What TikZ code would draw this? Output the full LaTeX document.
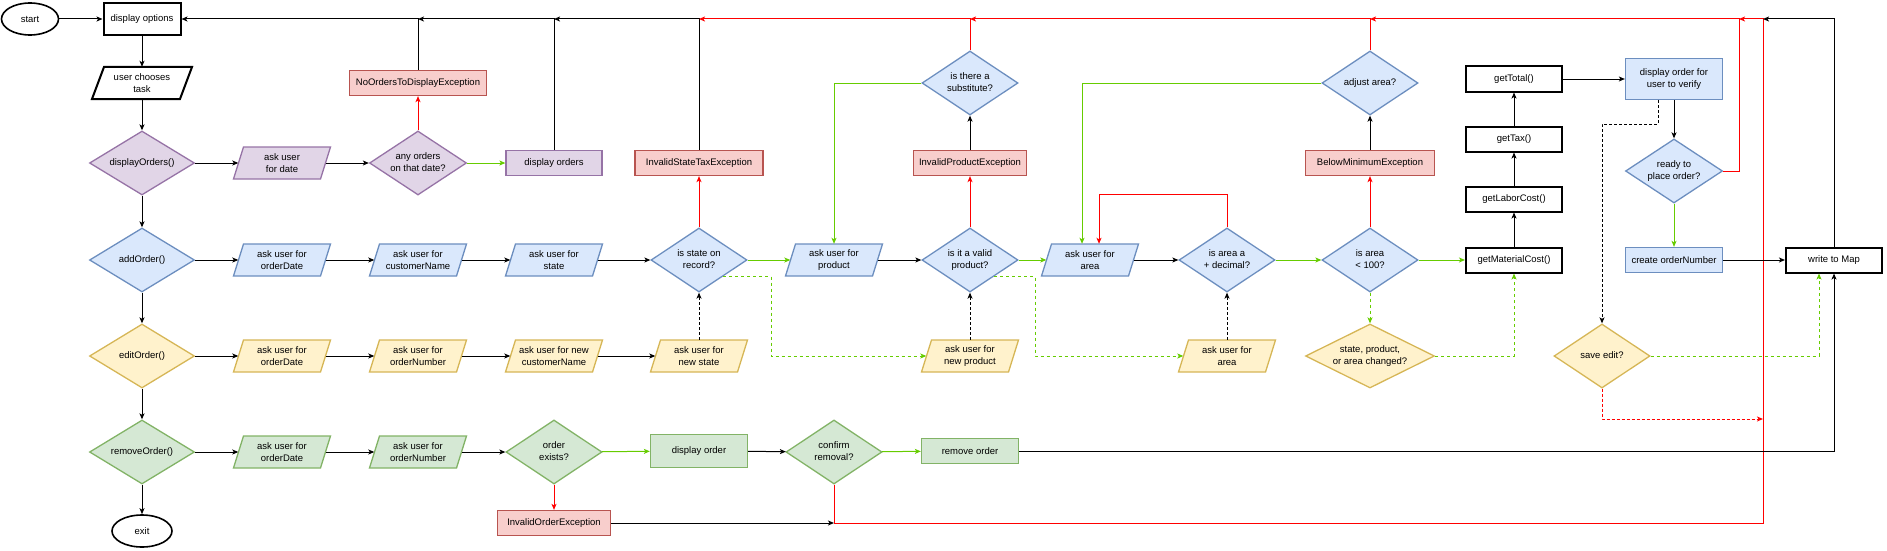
\documentclass[tikz,border=0pt]{standalone}
\usepackage{fontspec}
\setmainfont{Liberation Sans}
\usetikzlibrary{shapes.geometric,arrows.meta}
\definecolor{pF}{HTML}{E1D5E7}\definecolor{pS}{HTML}{9673A6}
\definecolor{bF}{HTML}{DAE8FC}\definecolor{bS}{HTML}{6C8EBF}
\definecolor{yF}{HTML}{FFF2CC}\definecolor{yS}{HTML}{D6B656}
\definecolor{gF}{HTML}{D5E8D4}\definecolor{gS}{HTML}{82B366}
\definecolor{rF}{HTML}{F8CECC}\definecolor{rS}{HTML}{B85450}
\definecolor{eR}{HTML}{FF0000}\definecolor{eG}{HTML}{66CC00}
\newcommand\dtx[1]{\smash{\makebox[0pt]{\raisebox{-2.5pt}{\begin{tabular}{@{}c@{}}#1\end{tabular}}}}}
\newcommand\pgram[5]{%
  \path[#4] ({#2-48.5},{#3+16}) -- ({#2-38.5},{#3-16}) -- ({#2+48.5},{#3-16}) -- ({#2+38.5},{#3+16}) -- cycle;
  \node[txt,minimum width=87pt,minimum height=32pt] (#1) at (#2,#3) {#5};}
\tikzset{
  txt/.style={font=\fontsize{9.5}{12}\selectfont, align=center, inner sep=0pt, text=black},
  sP/.style={fill=pF, draw=pS, line width=1.3pt},
  sB/.style={fill=bF, draw=bS, line width=1.3pt},
  sY/.style={fill=yF, draw=yS, line width=1.3pt},
  sG/.style={fill=gF, draw=gS, line width=1.3pt},
  sR/.style={fill=rF, draw=rS, line width=1.3pt},
  sK/.style={fill=white, draw=black, line width=2pt},
  rbox/.style={txt, rectangle, minimum height=25pt},
  dia/.style={txt, diamond, minimum height=64pt, minimum width=96pt},
  edg/.style={line width=1pt, -{Stealth[length=6pt,width=5pt,inset=1.5pt]}},
  be/.style={edg, draw=black},
  re/.style={edg, draw=eR},
  ge/.style={edg, draw=eG},
  bd/.style={be, dash pattern=on 3pt off 2pt},
  gd/.style={ge, dash pattern=on 3pt off 3pt},
  rd/.style={re, dash pattern=on 3pt off 2pt},
}
\begin{document}
\begin{tikzpicture}[x=1pt,y=-1pt]
\useasboundingbox (0,0) rectangle (1887,551);
\coordinate (top) at (0,19);
% ---------- column 1
\node[txt,ellipse,draw=black,line width=1.6pt,minimum width=57pt,minimum height=32pt] (start) at (30,19) {start};
\node[rbox,sK,minimum width=77pt,minimum height=32pt] (dopt) at (142,19) {display options};
\path[sK] (92,99) -- (104,67) -- (192,67) -- (180,99) -- cycle;
\node[txt,minimum width=88pt,minimum height=32pt] (uct) at (142,83) {user chooses\\task};
\node[dia,sP,minimum width=105pt] (dO) at (142,163) {\dtx{displayOrders()}};
\node[dia,sB,minimum width=105pt] (aO) at (142,260) {\dtx{addOrder()}};
\node[dia,sY,minimum width=105pt] (eO) at (142,356) {\dtx{editOrder()}};
\node[dia,sG,minimum width=105pt] (rO) at (142,452) {\dtx{removeOrder()}};
\node[txt,ellipse,draw=black,line width=1.6pt,minimum width=60pt,minimum height=32pt] (exit) at (142,531) {exit};
% ---------- row 1 (display)
\pgram{dA}{282}{163}{sP}{ask user\\for date}
\node[dia,sP,minimum width=97pt] (any) at (418,163) {\dtx{any orders\\on that date?}};
\node[rbox,sR,minimum width=137pt] (noE) at (418,83) {NoOrdersToDisplayException};
\node[rbox,sP,minimum width=96pt] (dso) at (554,163) {display orders};
% ---------- row 2 (add)
\pgram{a1}{282}{260}{sB}{ask user for\\orderDate}
\pgram{a2}{418}{260}{sB}{ask user for\\customerName}
\pgram{a3}{554}{260}{sB}{ask user for\\state}
\node[dia,sB] (isr) at (699,260) {\dtx{is state on\\record?}};
\node[rbox,sR,minimum width=128pt] (ist) at (699,163) {InvalidStateTaxException};
\pgram{prod}{834}{260}{sB}{ask user for\\product}
\node[dia,sB] (ivp) at (970,260) {\dtx{is it a valid\\product?}};
\node[rbox,sR,minimum width=113pt] (ipe) at (970,163) {InvalidProductException};
\node[dia,sB] (sub) at (970,83) {\dtx{is there a\\substitute?}};
\pgram{arB}{1090}{260}{sB}{ask user for\\area}
\node[dia,sB] (dec) at (1227,260) {\dtx{is area a\\+ decimal?}};
\node[dia,sB] (a100) at (1370,260) {\dtx{is area\\< 100?}};
\node[rbox,sR,minimum width=129pt] (bme) at (1370,163) {BelowMinimumException};
\node[dia,sB] (adj) at (1370,83) {\dtx{adjust area?}};
\node[rbox,sK,minimum width=96pt] (gmc) at (1514,260) {getMaterialCost()};
\node[rbox,sK,minimum width=96pt] (glc) at (1514,199) {getLaborCost()};
\node[rbox,sK,minimum width=96pt] (gtx) at (1514,139) {getTax()};
\node[rbox,sK,minimum width=96pt] (gtt) at (1514,79) {getTotal()};
\node[rbox,sB,minimum width=97pt,minimum height=41pt] (dov) at (1674,79) {display order for\\user to verify};
\node[dia,sB,minimum width=97pt] (rdy) at (1674,171) {\dtx{ready to\\place order?}};
\node[rbox,sB,minimum width=97pt] (con) at (1674,260) {create orderNumber};
\node[rbox,sK,minimum width=96pt] (wtm) at (1834,260) {write to Map};
% ---------- row 3 (edit)
\pgram{e1}{282}{356}{sY}{ask user for\\orderDate}
\pgram{e2}{418}{356}{sY}{ask user for\\orderNumber}
\pgram{e3}{554}{356}{sY}{ask user for new\\customerName}
\pgram{e4}{699}{356}{sY}{ask user for\\new state}
\pgram{e5}{970}{356}{sY}{ask user for\\new product}
\pgram{e6}{1227}{356}{sY}{ask user for\\area}
\node[dia,sY,minimum width=129pt] (chg) at (1370,356) {\dtx{state, product,\\or area changed?}};
\node[dia,sY] (sav) at (1602,356) {\dtx{save edit?}};
% ---------- row 4 (remove)
\pgram{r1}{282}{452}{sG}{ask user for\\orderDate}
\pgram{r2}{418}{452}{sG}{ask user for\\orderNumber}
\node[dia,sG] (oex) at (554,452) {\dtx{order\\exists?}};
\node[rbox,sR,minimum width=113pt] (ioe) at (554,523) {InvalidOrderException};
\node[rbox,sG,minimum width=97pt,minimum height=33pt] (dor) at (699,451) {display order};
\node[dia,sG] (cfm) at (834,452) {\dtx{confirm\\removal?}};
\node[rbox,sG,minimum width=97pt] (rmo) at (970,451) {remove order};
% ---------- coordinates
\coordinate (rdT) at (1739,19);
\coordinate (lrT) at (1763,19);
\coordinate (lrB) at (1763,523);
\coordinate (sv) at (1763,419);
\coordinate (k1) at (771,356);
\coordinate (k2) at (1035,356);
% ---------- edges: main column
\draw[be] (start) -- (dopt);
\draw[be] (dopt) -- (uct);
\draw[be] (uct) -- (dO);
\draw[be] (dO) -- (aO);
\draw[be] (aO) -- (eO);
\draw[be] (eO) -- (rO);
\draw[be] (rO) -- (exit);
% row 1
\draw[be] (dO) -- (dA);
\draw[be] (dA) -- (any);
\draw[ge] (any) -- (dso);
\draw[re] (any) -- (noE);
% top return chain
\draw[be] (noE.north) |- (dopt.east);
\draw[be] (dso.north) |- (noE.north |- top);
\draw[be] (ist.north) |- (dso.north |- top);
\draw[re] (sub.north) |- (ist.north |- top);
\draw[re] (adj.north) |- (sub.north |- top);
\draw[re] (rdy.east) -| (rdT) -- (adj.north |- top);
\draw[re] (cfm.south) |- (lrB) -- (lrT) -- (rdT);
\draw[be] (wtm.north) |- (lrT);
% row 2
\draw[be] (aO) -- (a1);
\draw[be] (a1) -- (a2);
\draw[be] (a2) -- (a3);
\draw[be] (a3) -- (isr);
\draw[ge] (isr) -- (prod);
\draw[re] (isr) -- (ist);
\draw[be] (prod) -- (ivp);
\draw[ge] (ivp) -- (arB);
\draw[re] (ivp) -- (ipe);
\draw[be] (ipe) -- (sub);
\draw[ge] (sub.west) -| (prod.north);
\draw[be] (arB) -- (dec);
\draw[re] (dec.north) -- ++(0,-33) -| ([xshift=9pt]arB.north);
\draw[ge] (adj.west) -| ([xshift=-8pt]arB.north);
\draw[ge] (dec) -- (a100);
\draw[ge] (a100) -- (gmc);
\draw[re] (a100) -- (bme);
\draw[be] (bme) -- (adj);
\draw[be] (gmc) -- (glc);
\draw[be] (glc) -- (gtx);
\draw[be] (gtx) -- (gtt);
\draw[be] (gtt) -- (dov);
\draw[be] (dov) -- (rdy);
\draw[ge] (rdy) -- (con);
\draw[be] (con) -- (wtm);
\draw[bd] ([xshift=-16pt]dov.south) -- ++(0,24) -| (sav.north);
% row 3
\draw[be] (eO) -- (e1);
\draw[be] (e1) -- (e2);
\draw[be] (e2) -- (e3);
\draw[be] (e3) -- (e4);
\draw[bd] (e4) -- (isr);
\draw[bd] (e5) -- (ivp);
\draw[bd] (e6) -- (dec);
\draw[gd] (isr.south east) -| (k1) -- (e5);
\draw[gd] (ivp.south east) -| (k2) -- (e6);
\draw[gd] (a100) -- (chg);
\draw[gd] (chg.east) -| (gmc.south);
\draw[gd] (sav.east) -| ([xshift=-15pt]wtm.south);
\draw[rd] (sav.south) |- (sv);
% row 4
\draw[be] (rO) -- (r1);
\draw[be] (r1) -- (r2);
\draw[be] (r2) -- (oex);
\draw[ge] (oex) -- (dor);
\draw[re] (oex) -- (ioe);
\draw[be] (dor) -- (cfm);
\draw[ge] (cfm) -- (rmo);
\draw[be] (rmo.east) -| (wtm.south);
\draw[be] (ioe.east) -- (cfm.south |- ioe.east);
\end{tikzpicture}
\end{document}
